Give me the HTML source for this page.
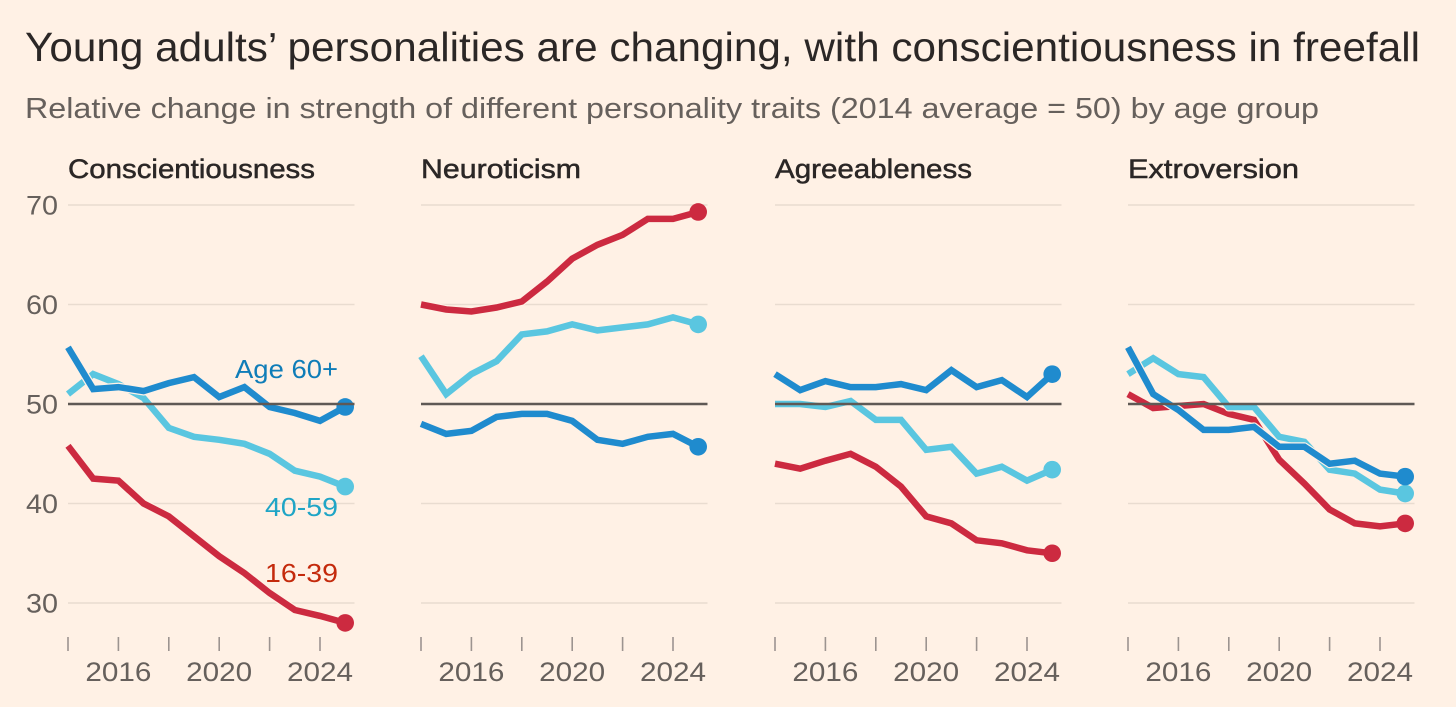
<!DOCTYPE html>
<html>
<head>
<meta charset="utf-8">
<style>
html,body{margin:0;padding:0;background:#fff1e5;}
svg{display:block;font-family:"Liberation Sans",sans-serif;}
</style>
</head>
<body>
<svg id="chart" width="1456" height="707" viewBox="0 0 1456 707" xmlns="http://www.w3.org/2000/svg">
<rect width="1456" height="707" fill="#fff1e5"/>
<text x="25" y="61" font-size="40.5" fill="#2b2726" textLength="1395" lengthAdjust="spacingAndGlyphs">Young adults’ personalities are changing, with conscientiousness in freefall</text>
<text x="25" y="118" font-size="29" fill="#66605c" textLength="1294" lengthAdjust="spacingAndGlyphs">Relative change in strength of different personality traits (2014 average = 50) by age group</text>
</svg>
<script>
const years = [2014,2015,2016,2017,2018,2019,2020,2021,2022,2023,2024,2025];
const yTicks = [70,60,40,30];
const baselineValue = 50;
const yTickLabels = ['70','60','50','40','30'];
const xTickYears = [2014,2016,2018,2020,2022,2024];
const xLabelYears = [2016,2020,2024];
const panelNames = ['Conscientiousness','Neuroticism','Agreeableness','Extroversion'];
const seriesNames = ['16-39','40-59','Age 60+'];

const conscientiousnessYoung = [45.8,42.5,42.3,40,38.7,36.7,34.7,33,31,29.3,28.7,28];
const conscientiousnessMiddle = [51,53,52,50.6,47.6,46.7,46.4,46,45,43.3,42.7,41.7];
const conscientiousnessOld = [55.7,51.5,51.7,51.3,52.1,52.7,50.7,51.7,49.7,49.1,48.3,49.7];

const neuroticismYoung = [60,59.5,59.3,59.7,60.3,62.3,64.6,66,67,68.6,68.6,69.3];
const neuroticismMiddle = [54.8,51,53,54.3,57,57.3,58,57.4,57.7,58,58.7,58];
const neuroticismOld = [48,47,47.3,48.7,49,49,48.3,46.4,46,46.7,47,45.7];

const agreeablenessYoung = [44,43.5,44.3,45,43.7,41.7,38.7,38,36.3,36,35.3,35];
const agreeablenessMiddle = [50,50,49.7,50.3,48.4,48.4,45.4,45.7,43,43.7,42.3,43.4];
const agreeablenessOld = [53,51.4,52.3,51.7,51.7,52,51.4,53.4,51.7,52.4,50.7,53];

const extroversionYoung = [51,49.6,49.8,50,49,48.4,44.4,42,39.4,38,37.7,38];
const extroversionMiddle = [53,54.6,53,52.7,49.7,49.7,46.7,46.2,43.4,43,41.4,41];
const extroversionOld = [55.7,51,49.4,47.4,47.4,47.7,45.7,45.7,44,44.3,43,42.7];

const panelSeries = [
  [conscientiousnessYoung, conscientiousnessMiddle, conscientiousnessOld],
  [neuroticismYoung, neuroticismMiddle, neuroticismOld],
  [agreeablenessYoung, agreeablenessMiddle, agreeablenessOld],
  [extroversionYoung, extroversionMiddle, extroversionOld]
];

const NS = 'http://www.w3.org/2000/svg';
const svg = document.getElementById('chart');
const bg = '#fff1e5';
const colors = ['#cc2a40','#5ac6e0','#1f8bce'];
const labelColors = ['#c42a0c','#1fa5c6','#0f7db8'];
const panelLeft = [68,421,775,1128];
const panelTitleWidths = [247,160,197,171];
const panelWidth = 286.5;

function yScale(v){ return 404 + (50 - v) * 9.95; }
function xScale(p, yr){ return panelLeft[p] + (yr - 2014) * 25.2; }
function mk(tag, attrs, parent){
  const el = document.createElementNS(NS, tag);
  for (const k in attrs) el.setAttribute(k, attrs[k]);
  (parent || svg).appendChild(el);
  return el;
}

yTickLabels.forEach(function(t){
  const lab = mk('text',{x:26,y:yScale(+t)+9.5,'font-size':27,fill:'#66605c',textLength:32,lengthAdjust:'spacingAndGlyphs'});
  
  
  lab.textContent = t;
});

panelNames.forEach(function(name,p){
  const g = mk('g',{});
  
  
  const title = mk('text',{x:panelLeft[p],y:178,'font-size':27,fill:'#2b2726',stroke:'#2b2726','stroke-width':0.5,textLength:panelTitleWidths[p],lengthAdjust:'spacingAndGlyphs'},g);
  
  
  title.textContent = name;

  yTicks.forEach(function(v){
    const grid = mk('line',{x1:panelLeft[p],x2:panelLeft[p]+panelWidth,y1:yScale(v),y2:yScale(v),stroke:'#e9dcd0','stroke-width':1.5},g);
    
    
  });

  xTickYears.forEach(function(yr){
    const x = xScale(p,yr);
    const tick = mk('line',{x1:x,x2:x,y1:637,y2:651,stroke:'#9c9490','stroke-width':1.6},g);
    
    
  });

  xLabelYears.forEach(function(yr){
    const lab = mk('text',{x:xScale(p,yr)-33,y:681,'font-size':27,fill:'#66605c',textLength:66,lengthAdjust:'spacingAndGlyphs'},g);
    
    
    lab.textContent = String(yr);
  });

  panelSeries[p].forEach(function(vals,s){
    const pts = vals.map(function(v,i){ return xScale(p,years[i]).toFixed(1) + ',' + yScale(v).toFixed(1); }).join(' ');
    const halo = mk('polyline',{points:pts,fill:'none',stroke:bg,'stroke-width':9,'stroke-linejoin':'round'},g);
    
    
    const line = mk('polyline',{points:pts,fill:'none',stroke:colors[s],'stroke-width':6.5,'stroke-linejoin':'miter'},g);
    
    
    const last = vals.length - 1;
    const dot = mk('circle',{cx:xScale(p,years[last]),cy:yScale(vals[last]),r:8.8,fill:colors[s]},g);
    
    
  });

  const base = mk('line',{x1:panelLeft[p],x2:panelLeft[p]+panelWidth,y1:yScale(baselineValue),y2:yScale(baselineValue),stroke:'#5f5955','stroke-width':2.4},g);
  
  
});

const labelOld = mk('text',{x:235,y:378,'font-size':26,fill:labelColors[2],textLength:103,lengthAdjust:'spacingAndGlyphs'});


labelOld.textContent = seriesNames[2];

const labelMiddle = mk('text',{x:265,y:516,'font-size':26,fill:labelColors[1],textLength:73,lengthAdjust:'spacingAndGlyphs'});


labelMiddle.textContent = seriesNames[1];

const labelYoung = mk('text',{x:265,y:582,'font-size':26,fill:labelColors[0],textLength:73,lengthAdjust:'spacingAndGlyphs'});


labelYoung.textContent = seriesNames[0];
</script>
</body>
</html>
